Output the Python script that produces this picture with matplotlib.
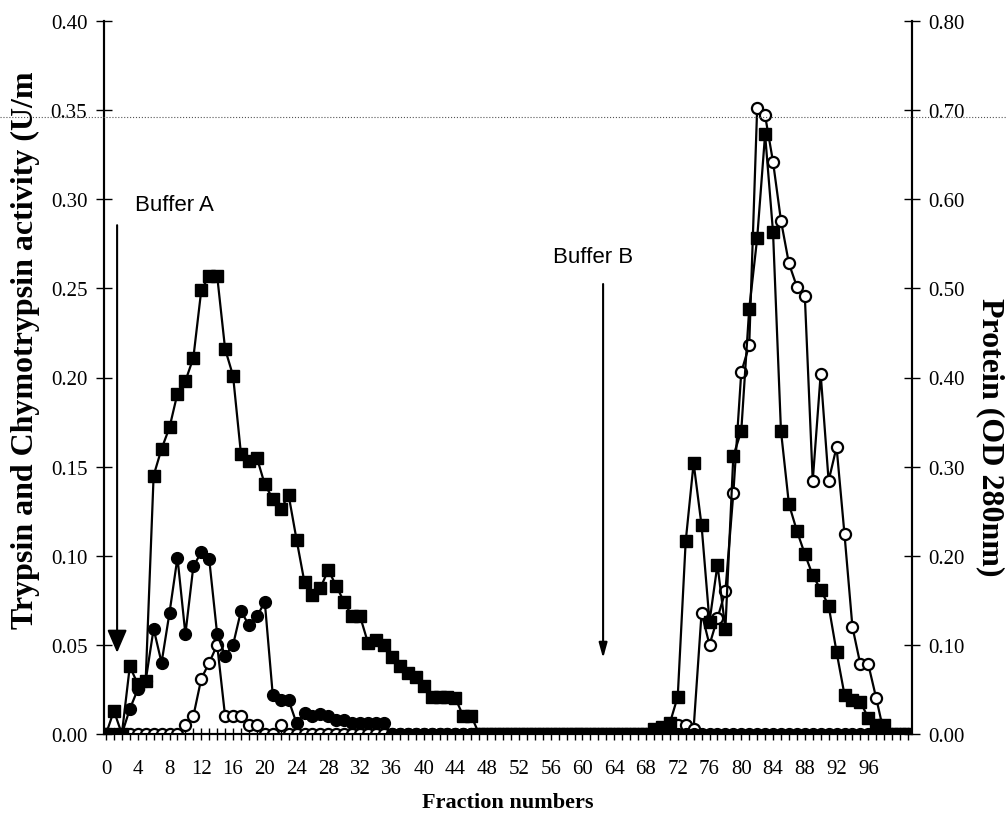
import matplotlib.pyplot as plt
import numpy as np

plt.rcParams['font.family'] = ['Liberation Serif', 'DejaVu Serif']

fractions = np.arange(0, 102)

# filled squares: protein, OD 280nm (right axis)
protein = [0.000, 0.026, 0.000, 0.076, 0.056, 0.060, 0.290, 0.320, 0.344, 0.382,
           0.396, 0.422, 0.498, 0.514, 0.514, 0.432, 0.402, 0.314, 0.306, 0.310,
           0.280, 0.264, 0.252, 0.268, 0.218, 0.170, 0.156, 0.164, 0.184, 0.166,
           0.148, 0.132, 0.132, 0.102, 0.106, 0.100, 0.086, 0.076, 0.068, 0.064,
           0.054, 0.042, 0.042, 0.042, 0.040, 0.020, 0.020, 0.000, 0.000, 0.000,
           0.000, 0.000, 0.000, 0.000, 0.000, 0.000, 0.000, 0.000, 0.000, 0.000,
           0.000, 0.000, 0.000, 0.000, 0.000, 0.000, 0.000, 0.000, 0.000, 0.006,
           0.008, 0.012, 0.042, 0.216, 0.304, 0.234, 0.126, 0.190, 0.118, 0.312,
           0.340, 0.477, 0.556, 0.673, 0.563, 0.340, 0.258, 0.228, 0.202, 0.178,
           0.162, 0.144, 0.092, 0.044, 0.038, 0.036, 0.018, 0.010, 0.010, 0.000,
           0.000, 0.000]

# filled circles: trypsin activity (left axis)
trypsin = [0.000, 0.000, 0.000, 0.014, 0.025, 0.030, 0.059, 0.040, 0.068, 0.099,
           0.056, 0.094, 0.102, 0.098, 0.056, 0.044, 0.050, 0.069, 0.061, 0.066,
           0.074, 0.022, 0.019, 0.019, 0.006, 0.012, 0.010, 0.011, 0.010, 0.008,
           0.008, 0.006, 0.006, 0.006, 0.006, 0.006] + [0.0] * 66

# open circles: chymotrypsin activity (left axis)
chymo = ([0.000] * 10 +
         [0.005, 0.010, 0.031, 0.040, 0.050, 0.010, 0.010, 0.010, 0.005, 0.005,
          0.000, 0.000, 0.005] +
         [0.000] * 49 +
         [0.005, 0.005, 0.003, 0.068, 0.050, 0.065, 0.080, 0.135,
          0.203, 0.218, 0.351, 0.347, 0.321, 0.288, 0.264, 0.251, 0.246, 0.142,
          0.202, 0.142, 0.161, 0.112, 0.060, 0.039, 0.039, 0.020, 0.000, 0.000,
          0.000, 0.000])

xtick_pos = np.arange(0, 97, 4)
left_ticks = np.arange(0, 0.401, 0.05)
right_ticks = np.arange(0, 0.801, 0.10)

fig = plt.figure(figsize=(10.07, 8.28), dpi=100)
ax = fig.add_axes([104 / 1007, 93 / 828, 808 / 1007, 713 / 828])
ax2 = ax.twinx()

ax.plot(fractions, chymo, '-o', color='black', mfc='white', mec='black',
        ms=8, mew=1.6, lw=1.6, zorder=3)
ax.plot(fractions, trypsin, '-o', color='black', ms=8.5, lw=1.6, zorder=4)
ax2.plot(fractions, protein, '-s', color='black', ms=8, lw=1.6, zorder=5)

ax.set_xlim(-0.25, 101.5)
ax.set_ylim(0, 0.40)
ax2.set_ylim(0, 0.80)

ax.set_xticks(xtick_pos)
ax.set_xticklabels([str(v) for v in xtick_pos])
ax.set_xticks(np.arange(0, 102, 1), minor=True)
ax.set_yticks(left_ticks)
ax.set_yticklabels(['%.2f' % v for v in left_ticks])
ax2.set_yticks(right_ticks)
ax2.set_yticklabels(['%.2f' % v for v in right_ticks])

ax.tick_params(axis='x', which='both', direction='inout', length=8, width=1,
               labelsize=15, pad=14)
ax.tick_params(axis='y', direction='inout', length=12, width=1, labelsize=15, pad=6)
ax2.tick_params(axis='y', direction='inout', length=12, width=1, labelsize=15, pad=6)

for a in (ax, ax2):
    a.spines['top'].set_visible(False)
    for s in ('left', 'right', 'bottom'):
        a.spines[s].set_linewidth(1.5)

ax.set_xlabel('Fraction numbers', fontsize=16, fontweight='bold', labelpad=10)
fig.text(25 / 1007, 1 - 350 / 828, 'Trypsin and Chymotrypsin activity (U/m',
         rotation=90, ha='center', va='center', fontsize=23, fontweight='bold')
fig.text(990 / 1007, 1 - 437 / 828, 'Protein (OD 280nm)', rotation=-90,
         ha='center', va='center', fontsize=23, fontweight='bold')

# buffer arrows
ax.annotate('', xy=(1.4, 0.044), xytext=(1.4, 0.287),
            arrowprops=dict(arrowstyle='-|>,head_width=0.6,head_length=1.4',
                            color='black', lw=1.5))
ax.text(3.6, 0.297, 'Buffer A', fontsize=16, family='Liberation Sans', va='center')
ax.annotate('', xy=(62.6, 0.041), xytext=(62.6, 0.254),
            arrowprops=dict(arrowstyle='-|>,head_width=0.25,head_length=0.9',
                            color='black', lw=1.5))
ax.text(56.3, 0.268, 'Buffer B', fontsize=16, family='Liberation Sans', va='center')

# dotted scan line across the page
fig.add_artist(plt.Line2D([0, 1], [1 - 118 / 828, 1 - 118 / 828], color='#555555',
                          lw=0.8, ls=':', transform=fig.transFigure))

plt.savefig('out.png', dpi=100)
